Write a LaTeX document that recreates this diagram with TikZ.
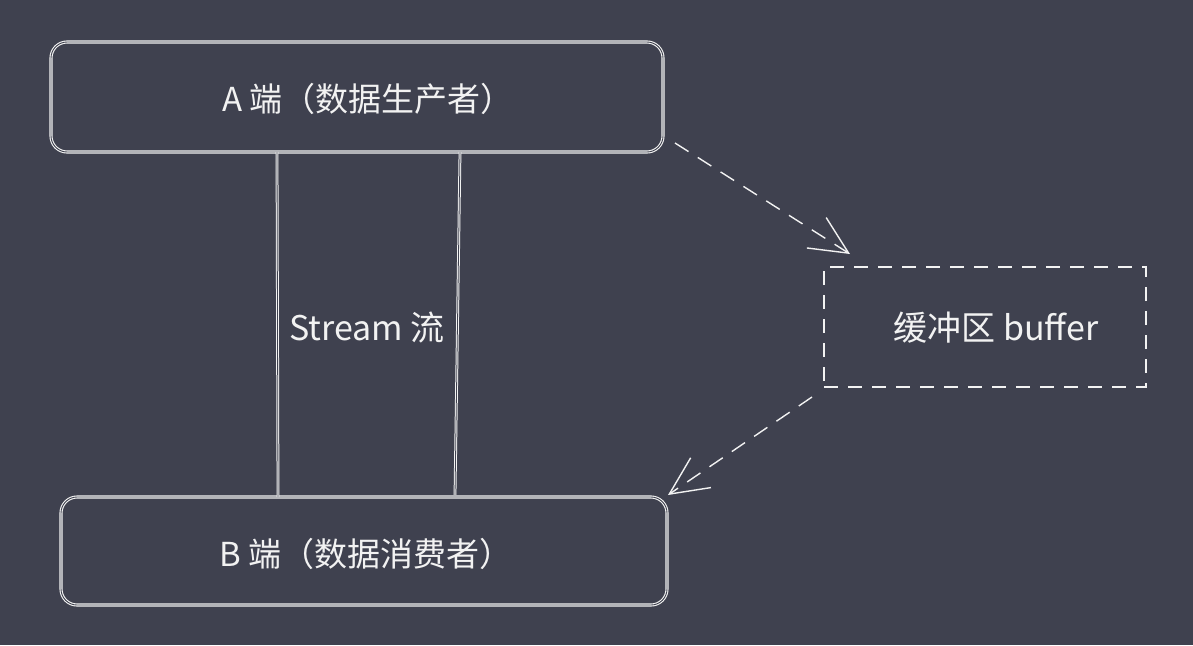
\documentclass[tikz,border=0pt]{standalone}
\usepackage{fontspec}
\setmainfont{Noto Sans CJK SC}
\usetikzlibrary{arrows.meta}
\definecolor{bg}{HTML}{3F414F}
\definecolor{ink}{HTML}{F2F2F2}
\begin{document}
\begin{tikzpicture}[x=1pt,y=-1pt,
  box/.style={draw=ink,line width=1.1pt,rounded corners=16pt,double=bg,double distance=0.9pt},
  lbl/.style={text=ink,font=\fontsize{33}{38}\selectfont},
  dbox/.style={draw=ink,line width=1.4pt,dash pattern=on 14pt off 10pt},
  darrow/.style={draw=ink,line width=1.4pt,dash pattern=on 16pt off 11pt,-{Straight Barb[length=38pt,width=36pt,line width=1.4pt]}},
  vline/.style={draw=ink,line width=1pt,double=bg,double distance=0.8pt}]
\fill[bg] (0,0) rectangle (1193,645);
\useasboundingbox (0,0) rectangle (1193,645);
\node[box,minimum width=612pt,minimum height=110pt] (A) at (357,97) {};
\node[lbl] at (368,99) {A 端（数据生产者）};
\node[box,minimum width=606pt,minimum height=108pt] (B) at (364,551) {};
\node[lbl] at (366,554) {B 端（数据消费者）};
\coordinate (s1) at (277,152);
\coordinate (e1) at (278,497);
\coordinate (s2) at (460,152);
\coordinate (e2) at (455,495);
\draw[vline] (s1) -- (e1);
\draw[vline] (s2) -- (e2);
\node[lbl,font=\fontsize{34}{38}\selectfont] (S) at (367,328) {Stream 流};
\node[dbox,minimum width=322pt,minimum height=120pt] (C) at (985,327) {};
\node[lbl,font=\fontsize{34}{38}\selectfont] at (996,328) {缓冲区 buffer};
\coordinate (a1) at (675,143);
\coordinate (a2) at (850,254);
\coordinate (b1) at (812,397);
\coordinate (b2) at (668,495);
\draw[darrow] (a1) -- (a2);
\draw[darrow] (b1) -- (b2);
\end{tikzpicture}
\end{document}
